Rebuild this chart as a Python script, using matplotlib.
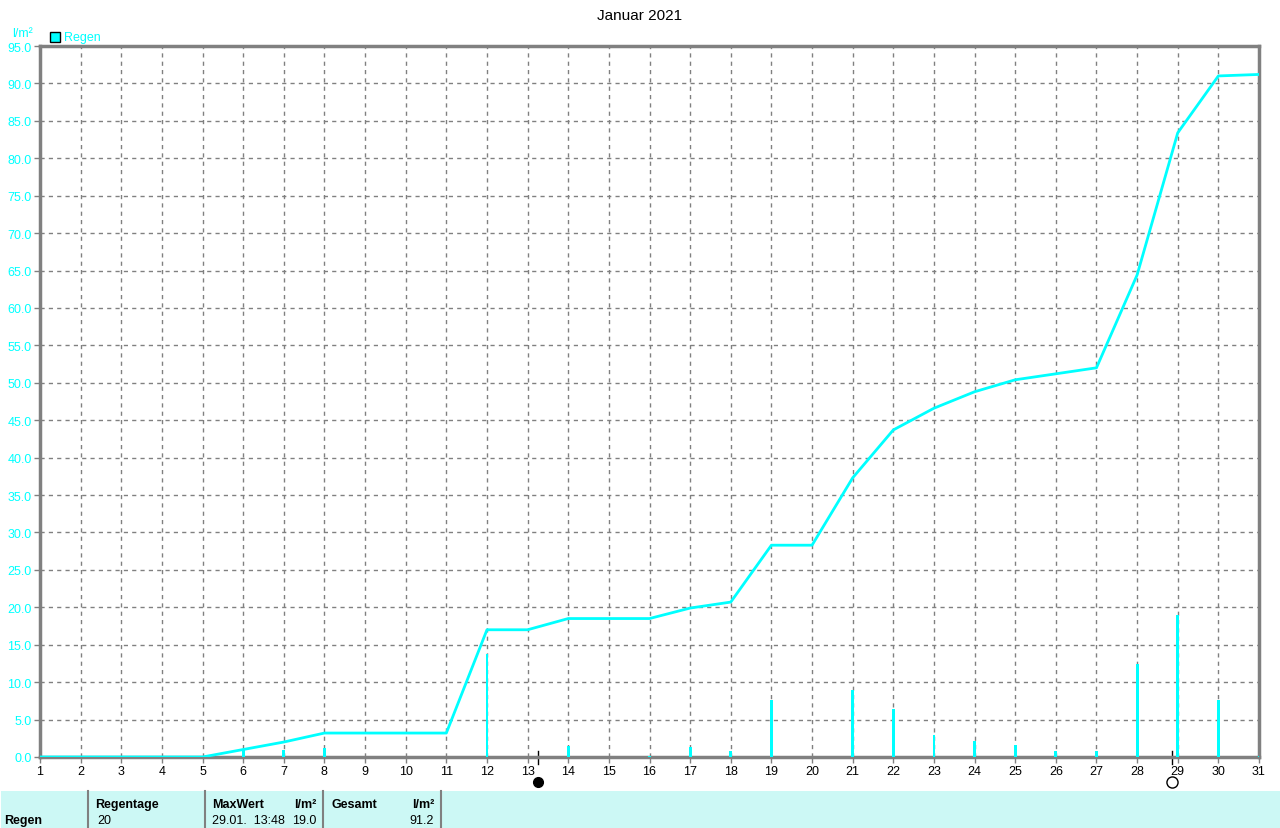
import numpy as np
import matplotlib.pyplot as plt
from matplotlib.patches import Rectangle
from matplotlib.lines import Line2D

# daily rain (l/m²), bar drawn at each day
days = list(range(1, 32))
rain = [0, 0, 0, 0, 0, 1.0, 1.0, 1.2, 0, 0, 0, 13.8, 0, 1.5, 0, 0.1,
        1.4, 0.8, 7.6, 0, 9.0, 6.4, 2.9, 2.2, 1.6, 0.8, 0.8, 12.4, 19.0, 7.6, 0.2]
# cumulative sum
total = [0, 0, 0, 0, 0, 1.0, 2.0, 3.2, 3.2, 3.2, 3.2, 17.0, 17.0, 18.5, 18.5, 18.5,
         19.9, 20.7, 28.3, 28.3, 37.3, 43.7, 46.6, 48.8, 50.4, 51.2, 52.0, 64.4, 83.4, 91.0, 91.2]

new_moon = 13.25
full_moon = 28.85

yticks = np.arange(0, 95.1, 5.0)

cyan = '#00ffff'
grey = '#808080'

plt.rcParams['font.family'] = ['Liberation Sans', 'DejaVu Sans']
plt.rcParams['font.size'] = 9

fig = plt.figure(figsize=(12.8, 8.29), dpi=100)
ax = fig.add_axes([40 / 1280, 1 - 758 / 829, 1219 / 1280, 711 / 829])

ax.bar(days, rain, width=0.07, color=cyan, zorder=3)
ax.plot(days, total, color=cyan, lw=2, zorder=4)

ax.set_xlim(1, 31)
ax.set_ylim(0, 95)
ax.set_xticks(days)
ax.set_yticks(yticks)
ax.set_yticklabels(['%.1f' % v for v in yticks], color=cyan)
ax.tick_params(axis='both', length=4, width=1, color=grey, pad=2, labelsize=9)
ax.grid(True, color=grey, linestyle=(0, (3, 3)), lw=1)
for s in ax.spines.values():
    s.set_color(grey)
    s.set_linewidth(2.5)

# moon phases
tr = ax.get_xaxis_transform()
for x in (new_moon, full_moon):
    ax.add_line(Line2D([x, x], [0.009, -0.01], transform=tr, color='black', lw=1, clip_on=False))
ax.plot([new_moon], [-0.035], 'o', transform=tr, color='black', ms=7, clip_on=False)
ax.plot([full_moon], [-0.035], 'o', transform=tr, mfc='white', mec='black', mew=1, ms=8, clip_on=False)

fig.text(0.5, 1 - 16 / 829, 'Januar 2021', ha='center', va='center', fontsize=11)
fig.text(12 / 1280, 1 - 34 / 829, 'l/m²', color=cyan, va='center', fontsize=9)
fig.patches.append(Rectangle((50 / 1280, 1 - 43 / 829), 10 / 1280, 10 / 829, transform=fig.transFigure,
                             facecolor=cyan, edgecolor='black', lw=1))
fig.text(64 / 1280, 1 - 38 / 829, 'Regen', color=cyan, va='center', fontsize=9)

# summary table
fig.patches.append(Rectangle((1 / 1280, 0), 1279 / 1280, 37 / 829, transform=fig.transFigure,
                             facecolor='#ccf8f5', edgecolor='none'))
for x in (88, 205, 323, 441):
    fig.add_artist(Line2D([x / 1280, x / 1280], [0, 37 / 829], color=grey, lw=1.5))
hy = 1 - 805 / 829
ry = 1 - 821 / 829
fig.text(4 / 1280, ry, 'Regen', weight='bold', va='center')
fig.text(95 / 1280, hy, 'Regentage', weight='bold', va='center')
fig.text(97 / 1280, ry, '20', va='center')
fig.text(212 / 1280, hy, 'MaxWert', weight='bold', va='center')
fig.text(316 / 1280, hy, 'l/m²', weight='bold', va='center', ha='right')
fig.text(212 / 1280, ry, '29.01.  13:48', va='center')
fig.text(316 / 1280, ry, '19.0', va='center', ha='right')
fig.text(331 / 1280, hy, 'Gesamt', weight='bold', va='center')
fig.text(434 / 1280, hy, 'l/m²', weight='bold', va='center', ha='right')
fig.text(434 / 1280, ry, '91.2', va='center', ha='right')

fig.savefig('out.png', dpi=100)
